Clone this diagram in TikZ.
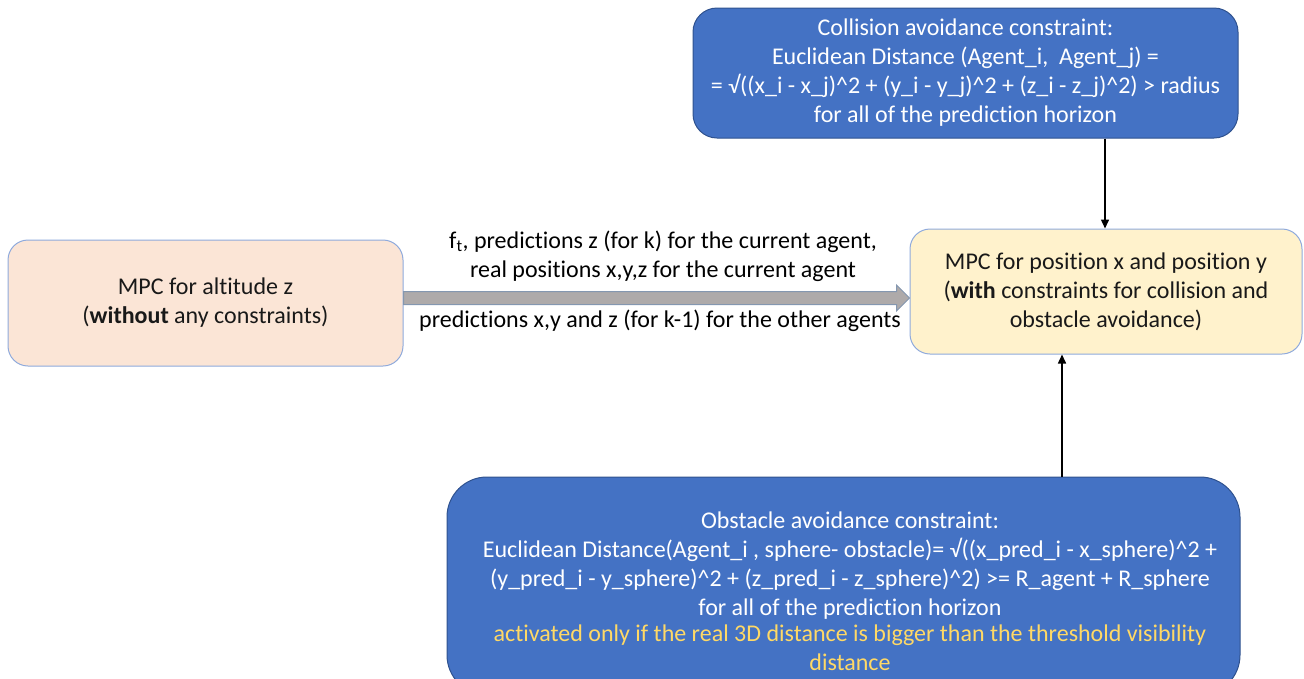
\documentclass[tikz,border=0pt]{standalone}
\usepackage{fontspec}
\setmainfont{Carlito}[Ligatures={NoCommon,NoContextual},Contextuals=NoAlternate]
\usetikzlibrary{arrows.meta,calc}

\definecolor{boxblue}{HTML}{4472C4}
\definecolor{blueline}{HTML}{2F528F}
\definecolor{paleline}{HTML}{8FAADC}
\definecolor{peach}{HTML}{FBE5D6}
\definecolor{cream}{HTML}{FFF2CC}
\definecolor{shaft}{HTML}{AEAAAA}
\definecolor{shaftline}{HTML}{8497B0}
\definecolor{note}{HTML}{FFD966}

\newcommand\powr{\textasciicircum}

\begin{document}
\begin{tikzpicture}[x=1pt,y=-1pt,
  every node/.style={font=\fontsize{24}{29}\selectfont,align=center,inner sep=0pt},
  darkbox/.style={draw=blueline,fill=boxblue,text=white,line width=1pt},
  lightbox/.style={draw=paleline,line width=1pt,text=black!90,rounded corners=20pt},
  link/.style={line width=1.5pt,-{Triangle[length=9pt,width=8pt]}},
  bigarrow/.style={draw=shaftline,fill=shaft,line width=1pt}]
\useasboundingbox (0,0) rectangle (1304,678);

\node[darkbox,rounded corners=24pt,minimum width=545pt,minimum height=130pt] (coll) at (965.5,73)
  {Collision avoidance constraint:\\
   Euclidean Distance (Agent\_i,~ Agent\_j) =\\
   = √((x\_i - x\_j)\powr2 + (y\_i - y\_j)\powr2 + (z\_i - z\_j)\powr2) > radius\\
   for all of the prediction horizon};

\node[lightbox,fill=peach,minimum width=395pt,minimum height=126pt] (alt) at (205.5,303)
  {MPC for altitude z\\(\textbf{without} any constraints)};

\node[lightbox,fill=cream,minimum width=392pt,minimum height=125pt] (pos) at (1106,291.5)
  {MPC for position x and position y\\(\textbf{with} constraints for collision and\\obstacle avoidance)};

\node[darkbox,rounded corners=40pt,minimum width=793pt,minimum height=218pt] (obst) at (843.5,586) {};
\node[text=white] (obsttxt) at (850,566)
  {Obstacle avoidance constraint:\\
   Euclidean Distance(Agent\_i , sphere- obstacle)= √((x\_pred\_i - x\_sphere)\powr2 +\\
   (y\_pred\_i - y\_sphere)\powr2 + (z\_pred\_i - z\_sphere)\powr2) >= R\_agent + R\_sphere\\
   for all of the prediction horizon};
\node[text=note,anchor=north] (obstnote) at ([yshift=-5pt]obsttxt.south)
  {activated only if the real 3D distance is bigger than the threshold visibility\\distance};

% thick data arrow between the two controllers
\coordinate (a0) at ([yshift=5pt]alt.east);
\coordinate (a1) at (a0 -| pos.west);
\draw[bigarrow] ($(a0)+(0,-6.5)$) -- ($(a1)+(-13,-6.5)$) -- ($(a1)+(-13,-13)$) -- (a1)
  -- ($(a1)+(-13,13)$) -- ($(a1)+(-13,6.5)$) -- ($(a0)+(0,6.5)$) -- cycle;
\node (up) at (663,256) {f\textsubscript{t}, predictions z (for k) for the current agent,\\real positions x,y,z for the current agent};
\node (down) at (660,321) {predictions x,y and z (for k-1) for the other agents};

% constraints feeding the xy controller
\path (coll.south) ++(139.5,0) coordinate (t1);
\draw[link] (t1) -- (t1 |- pos.north);
\path (pos.south) ++(-44,0) coordinate (b1);
\draw[link] (b1 |- obst.north) -- (b1);
\end{tikzpicture}
\end{document}
